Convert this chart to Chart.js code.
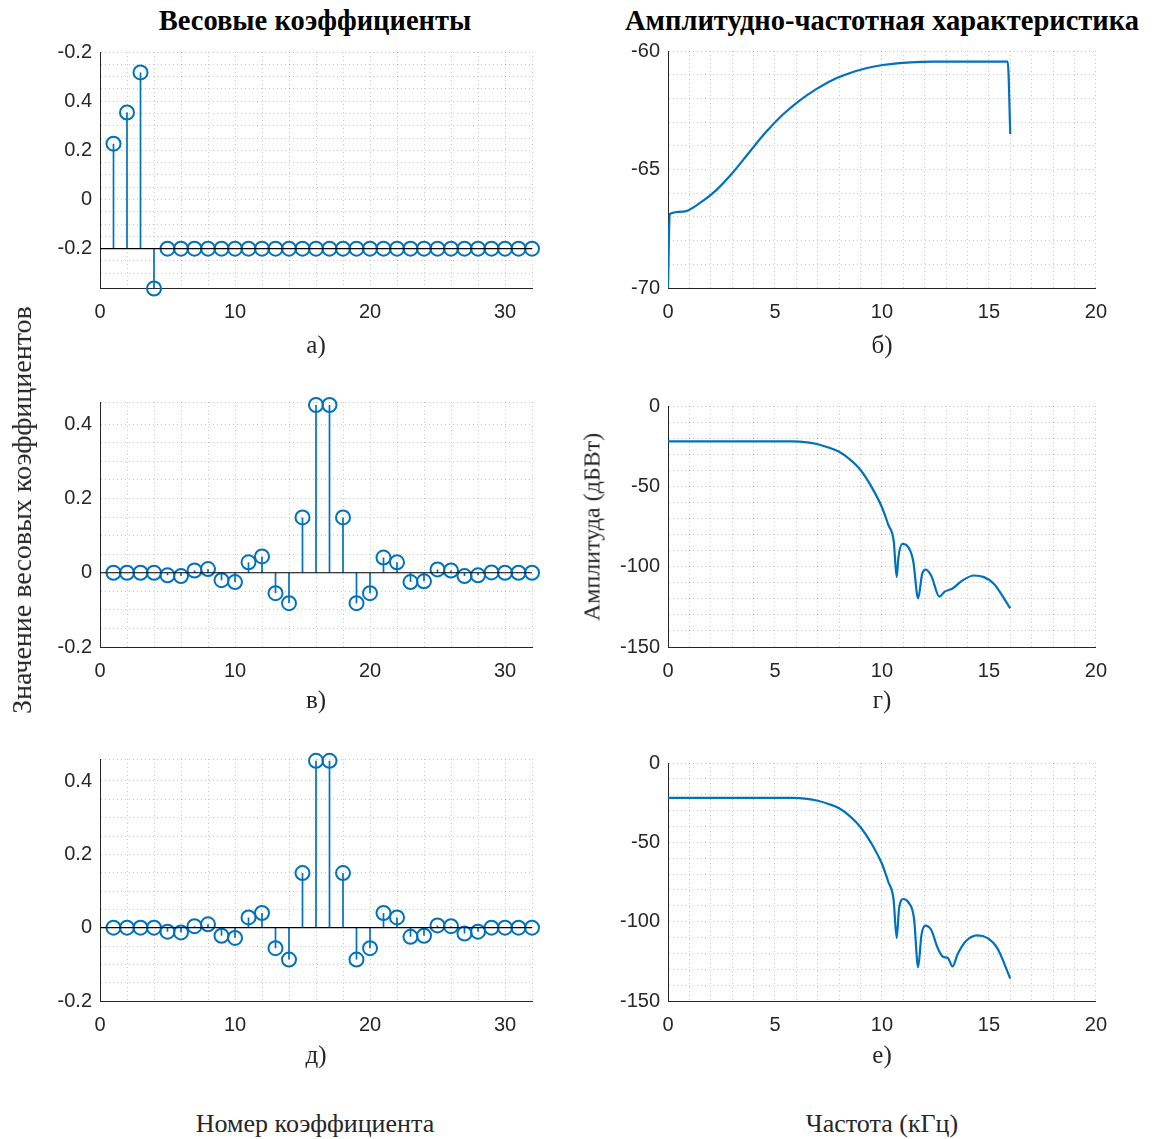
<!DOCTYPE html>
<html>
<head>
<meta charset="utf-8">
<script src="https://cdn.jsdelivr.net/npm/chart.js@4.4.1/dist/chart.umd.min.js"></script>
<style>
  body { margin: 0; background: #fff; width: 1157px; height: 1139px; position: relative; overflow: hidden; }
  canvas { position: absolute; }
  .txt { position: absolute; font-family: "Liberation Serif", "Times New Roman", serif; color: #262626;
         white-space: nowrap; transform: translate(-50%, -50%); }
  .ttl { font-weight: bold; color: #000; font-size: 28.5px; }
  .sub { font-size: 25px; }
  .ax { font-size: 26px; }
  .rot { transform: translate(-50%, -50%) rotate(-90deg); }
</style>
</head>
<body>

<div class="txt ttl" style="left:315px; top:21px;">Весовые коэффициенты</div>
<div class="txt ttl" style="left:882px; top:21px;">Амплитудно-частотная характеристика</div>

<canvas id="cA"></canvas>
<canvas id="cB"></canvas>
<canvas id="cC"></canvas>
<canvas id="cD"></canvas>
<canvas id="cE"></canvas>
<canvas id="cF"></canvas>

<div class="txt sub" style="left:316px; top:345px;">а)</div>
<div class="txt sub" style="left:882px; top:345px;">б)</div>
<div class="txt sub" style="left:316px; top:700px;">в)</div>
<div class="txt sub" style="left:882px; top:700px;">г)</div>
<div class="txt sub" style="left:316px; top:1055px;">д)</div>
<div class="txt sub" style="left:882px; top:1055px;">е)</div>

<div class="txt ax rot" style="left:22px; top:510px; font-size:28px;">Значение весовых коэффициентов</div>
<div class="txt ax rot" style="left:592px; top:527px; font-size:24px;">Амплитуда (дБВт)</div>
<div class="txt ax" style="left:315px; top:1124px;">Номер коэффициента</div>
<div class="txt ax" style="left:882px; top:1124px;">Частота (кГц)</div>

<script>
// coefficient index
const coefIndex = [1, 2, 3, 4, 5, 6, 7, 8, 9, 10, 11, 12, 13, 14, 15, 16,
                   17, 18, 19, 20, 21, 22, 23, 24, 25, 26, 27, 28, 29, 30, 31, 32];

// а) weights (stem baseline at -0.2)
const coefA = [0.227, 0.354, 0.517, -0.362, -0.2, -0.2, -0.2, -0.2, -0.2, -0.2, -0.2, -0.2, -0.2, -0.2, -0.2, -0.2,
               -0.2, -0.2, -0.2, -0.2, -0.2, -0.2, -0.2, -0.2, -0.2, -0.2, -0.2, -0.2, -0.2, -0.2, -0.2, -0.2];
const baseA = -0.2;

// в) weights
const coefB = [0, 0, 0, 0, -0.007, -0.009, 0.006, 0.01, -0.02, -0.025, 0.028, 0.044, -0.055, -0.082, 0.149, 0.452,
               0.452, 0.149, -0.082, -0.055, 0.041, 0.028, -0.025, -0.023, 0.009, 0.006, -0.009, -0.007, 0.001, 0, 0, 0];
// д) weights
const coefC = [0, 0, 0, 0, -0.011, -0.013, 0.004, 0.009, -0.022, -0.028, 0.028, 0.04, -0.056, -0.087, 0.149, 0.455,
               0.455, 0.149, -0.087, -0.056, 0.04, 0.028, -0.025, -0.022, 0.006, 0.004, -0.016, -0.011, 0, 0, 0, 0];
const baseBC = 0;

// б) frequency response
const freqB = [0, 0.08, 0.7, 1.48, 2.26, 3.03, 3.81, 4.59, 5.37, 6.15, 6.93, 7.7, 8.48, 9.26, 10.04, 10.82, 11.6, 12.4,
               15.88, 16.0];
const magB  = [-70, -66.88, -66.78, -66.42, -65.87, -65.13, -64.26, -63.41, -62.68, -62.09, -61.61, -61.22, -60.94, -60.73,
               -60.59, -60.51, -60.47, -60.45, -60.45, -63.5];

// г) frequency response
const freqG = [0, 2, 4, 5.8, 6.5, 7.0, 7.5, 8.0, 8.5, 9.0, 9.5, 10.0, 10.3, 10.55, 10.69, 10.77, 10.95, 11.15, 11.46, 11.69,
               11.88, 12.05, 12.3, 12.69, 12.92, 13.3, 13.77, 14.31, 14.77, 15.23, 16.0];
const magG  = [-22, -22, -22, -22, -22.6, -23.8, -25.8, -28.5, -33.2, -39.8, -50, -63, -74, -84, -106.5, -94.3, -85.8, -86.6,
               -96.3, -119.7, -104.5, -101.8, -105.5, -118.7, -115.7, -113.6, -108.5, -105.5, -106.5, -110.6, -126];

// е) frequency response
const freqE = [0, 2, 4, 5.8, 6.5, 7.0, 7.5, 8.0, 8.5, 9.0, 9.5, 10.0, 10.3, 10.54, 10.69, 10.8, 11.0, 11.23, 11.5, 11.69,
               11.85, 12.03, 12.3, 12.6, 12.85, 13.08, 13.3, 13.54, 13.92, 14.46, 14.92, 15.38, 16.0];
const magE  = [-22, -22, -22, -22, -22.6, -23.8, -25.8, -28.5, -33.5, -40.5, -50.5, -63.5, -75, -85.7, -110.2, -91.8, -85.7,
               -87.7, -98, -128.6, -108.2, -102.5, -105.1, -116.4, -122.1, -122.9, -128.2, -120.4, -112.3, -108.6, -110.2,
               -116.4, -135.8];

// tick labels
const stemXTicks = [0, 10, 20, 30];
const stemXLabels = ['0', '10', '20', '30'];
const aYTicks = [-0.2, 0, 0.2, 0.4, 0.6];
const aYLabels = ['-0.2', '0', '0.2', '0.4', '-0.2'];
const stemYTicks = [-0.2, 0, 0.2, 0.4];
const stemYLabels = ['-0.2', '0', '0.2', '0.4'];
const freqXTicks = [0, 5, 10, 15, 20];
const freqXLabels = ['0', '5', '10', '15', '20'];
const bYTicks = [-70, -65, -60];
const bYLabels = ['-70', '-65', '-60'];
const magYTicks = [-150, -100, -50, 0];
const magYLabels = ['-150', '-100', '-50', '0'];

const BLUE = '#0072BD';
const AXIS = '#262626';
const YW = 70, XH = 44, PT = 14, PR = 22;

function labeler(ticks, labels) {
  return (v) => {
    const i = ticks.findIndex((t) => Math.abs(t - v) < 1e-6);
    return i >= 0 ? labels[i] : '';
  };
}

function axis(min, max, step, ticks, labels, isX) {
  return {
    type: 'linear',
    min, max,
    afterFit: (s) => { if (isX) s.height = XH; else s.width = YW; },
    grid: { color: 'rgba(0,0,0,0.22)', lineWidth: 1, drawTicks: false },
    border: { display: true, color: AXIS, width: 1, dash: [1, 3] },
    ticks: {
      stepSize: step, autoSkip: false, maxRotation: 0,
      padding: isX ? 12 : 8,
      color: AXIS,
      font: { family: '"Liberation Sans", Arial, sans-serif', size: 20 },
      callback: labeler(ticks, labels),
    },
  };
}

function place(id, area) {
  const c = document.getElementById(id);
  c.width = YW + (area.right - area.left) + PR;
  c.height = PT + (area.bottom - area.top) + XH;
  c.style.left = (area.left - YW) + 'px';
  c.style.top = (area.top - PT) + 'px';
  return c;
}

const baseOpts = {
  responsive: false,
  animation: false,
  layout: { autoPadding: false, padding: { top: PT, right: PR, left: 0, bottom: 0 } },
  plugins: { legend: { display: false }, tooltip: { enabled: false } },
};

function stemChart(id, area, values, base, yMin, yMax, yTicks, yLabels) {
  const stems = [];
  values.forEach((v, i) => {
    stems.push({ x: coefIndex[i], y: base }, { x: coefIndex[i], y: v }, { x: coefIndex[i], y: null });
  });
  new Chart(place(id, area), {
    type: 'scatter',
    data: {
      datasets: [
        { data: [{ x: 0, y: base }, { x: coefIndex[coefIndex.length - 1], y: base }],
          showLine: true, borderColor: '#000', borderWidth: 1.2, pointRadius: 0, clip: false },
        { data: stems, showLine: true, spanGaps: false, borderColor: BLUE, borderWidth: 1.7, pointRadius: 0 },
        { data: values.map((v, i) => ({ x: coefIndex[i], y: v })),
          pointStyle: 'circle', pointRadius: 7, pointBorderWidth: 2,
          pointBorderColor: BLUE, pointBackgroundColor: 'rgba(255,255,255,0)', clip: false },
      ],
    },
    options: Object.assign({}, baseOpts, {
      scales: {
        x: axis(0, 32, 2, stemXTicks, stemXLabels, true),
        y: axis(yMin, yMax, 0.05, yTicks, yLabels, false),
      },
    }),
  });
}

function freqChart(id, area, freq, mag, yMin, yMax, yStep, yTicks, yLabels) {
  new Chart(place(id, area), {
    type: 'scatter',
    data: {
      datasets: [{
        data: freq.map((f, i) => ({ x: f, y: mag[i] })),
        showLine: true, borderColor: BLUE, borderWidth: 2.2, pointRadius: 0,
        cubicInterpolationMode: 'monotone',
      }],
    },
    options: Object.assign({}, baseOpts, {
      scales: {
        x: axis(0, 20, 1, freqXTicks, freqXLabels, true),
        y: axis(yMin, yMax, yStep, yTicks, yLabels, false),
      },
    }),
  });
}

stemChart('cA', { left: 100, right: 532, top: 46, bottom: 288 }, coefA, baseA, -0.36, 0.6, aYTicks, aYLabels);
stemChart('cC', { left: 100, right: 532, top: 396, bottom: 647 }, coefB, baseBC, -0.2, 0.46, stemYTicks, stemYLabels);
stemChart('cE', { left: 100, right: 532, top: 753, bottom: 1001 }, coefC, baseBC, -0.2, 0.46, stemYTicks, stemYLabels);

freqChart('cB', { left: 668, right: 1097, top: 45, bottom: 288 }, freqB, magB, -70, -60, 1, bYTicks, bYLabels);
freqChart('cD', { left: 668, right: 1097, top: 400, bottom: 647 }, freqG, magG, -150, 0, 10, magYTicks, magYLabels);
freqChart('cF', { left: 668, right: 1097, top: 757, bottom: 1001 }, freqE, magE, -150, 0, 10, magYTicks, magYLabels);
</script>
</body>
</html>
